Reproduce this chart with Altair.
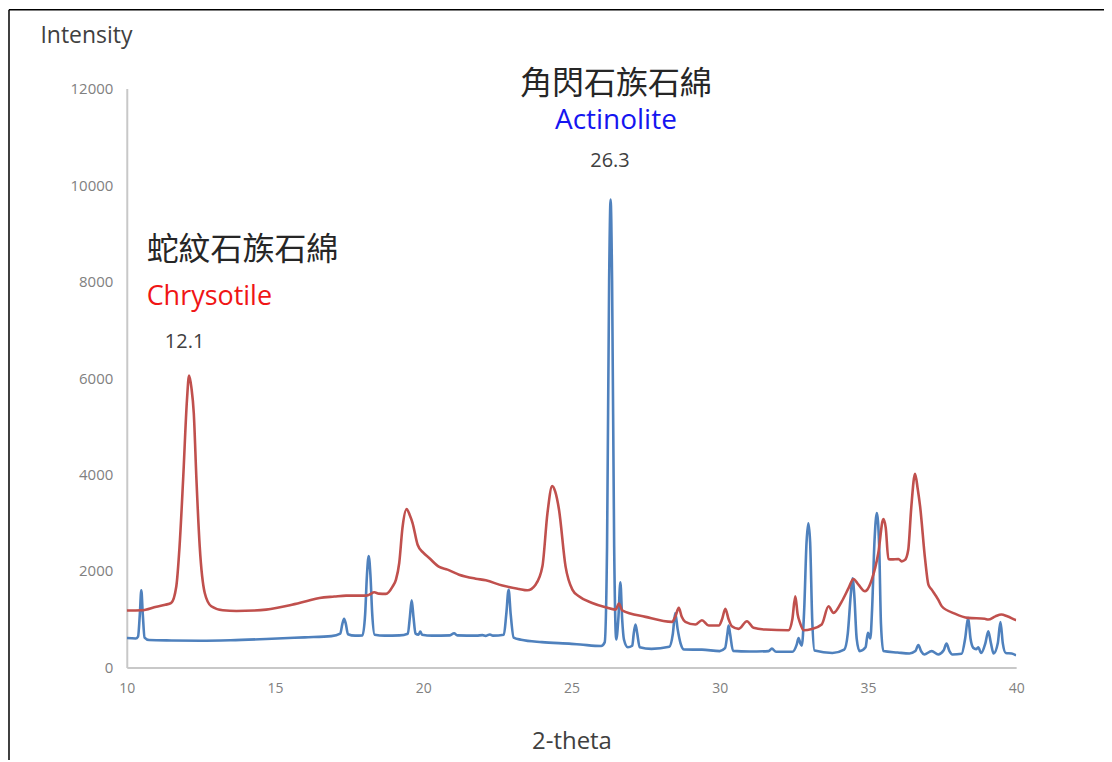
import altair as alt
import pandas as pd

# Actinolite (blue) pattern: 2-theta and intensity
act_x = [10.0, 10.3, 10.38, 10.44, 10.49, 10.54, 10.6, 10.75, 11.5, 12.5, 13.5, 14.7, 16.0, 16.9,
         17.2, 17.27, 17.33, 17.39, 17.46, 17.7, 17.95, 18.04, 18.1, 18.16, 18.22, 18.28, 18.36,
         18.7, 19.2, 19.48, 19.55, 19.61, 19.67, 19.74, 19.84, 19.9, 19.96, 20.3, 20.9, 21.04,
         21.15, 21.8, 22.0, 22.1, 22.25, 22.35, 22.72, 22.8, 22.88, 22.95, 23.05, 23.3, 24.0,
         25.0, 25.3, 26.0, 26.12, 26.2, 26.27, 26.32, 26.37, 26.44, 26.51, 26.58, 26.65, 26.71,
         26.77, 26.9, 27.05, 27.1, 27.16, 27.22, 27.3, 27.7, 28.3, 28.42, 28.5, 28.58, 28.68,
         28.8, 29.4, 30.0, 30.18, 30.26, 30.3, 30.35, 30.45, 31.0, 31.65, 31.76, 31.9, 32.45,
         32.6, 32.66, 32.72, 32.77, 32.85, 32.93, 32.99, 33.05, 33.12, 33.2, 33.8, 34.2, 34.32,
         34.42, 34.48, 34.54, 34.62, 34.72, 34.92, 35.0, 35.08, 35.14, 35.22, 35.3, 35.38, 35.44,
         35.52, 36.0, 36.4, 36.6, 36.7, 36.8, 36.9, 37.15, 37.37, 37.55, 37.65, 37.75, 37.85,
         38.16, 38.28, 38.38, 38.46, 38.55, 38.65, 38.72, 38.82, 38.96, 39.06, 39.15, 39.24,
         39.38, 39.47, 39.55, 39.65, 39.85, 40.0]
act_y = [610, 600, 640, 1100, 1600, 1100, 620, 570, 560, 555, 565, 590, 625, 650,
         700, 900, 1010, 900, 690, 660, 665, 1100, 1900, 2310, 1900, 1100, 680,
         660, 665, 700, 1050, 1390, 1050, 700, 680, 745, 680, 660, 665, 710,
         665, 660, 670, 655, 685, 660, 680, 1100, 1610, 1100, 620, 575, 525,
         490, 476, 445, 520, 2500, 8000, 9700, 8000, 2500, 580, 1000, 1765, 1000,
         580, 420, 450, 700, 890, 700, 420, 386, 430, 700, 1130, 800, 500,
         372, 370, 340, 400, 700, 870, 700, 345, 330, 340, 390, 325, 325,
         480, 610, 500, 450, 1200, 2600, 2990, 2600, 1000, 350, 300, 370, 700,
         1500, 1850, 1500, 600, 340, 420, 720, 600, 1200, 2600, 3200, 2500, 900,
         340, 310, 290, 340, 465, 330, 270, 340, 270, 350, 495, 340, 270,
         285, 600, 1030, 600, 410, 380, 420, 300, 500, 750, 500, 290,
         500, 940, 500, 300, 290, 250]

# Chrysotile (red) pattern
chr_x = [10.0, 10.5, 11.0, 11.3, 11.5, 11.67, 11.78, 11.9, 12.03, 12.1, 12.18, 12.26, 12.35,
         12.46, 12.63, 12.85, 13.24, 13.7, 14.3, 14.7, 15.5, 16.05, 16.5, 17.0, 17.4, 18.07,
         18.18, 18.35, 18.5, 18.74, 18.97, 19.08, 19.19, 19.3, 19.44, 19.55, 19.64, 19.81,
         20.0, 20.2, 20.54, 20.82, 21.21, 21.77, 22.11, 22.67, 23.23, 23.51, 23.79, 24.02,
         24.19, 24.35, 24.45, 24.58, 24.8, 25.03, 25.25, 25.7, 26.15, 26.49, 26.6, 26.71,
         27.5, 28.39, 28.5, 28.62, 28.72, 28.84, 29.18, 29.4, 29.63, 29.97, 30.08, 30.19,
         30.3, 30.41, 30.64, 30.92, 31.14, 31.54, 32.32, 32.45, 32.55, 32.63, 32.71, 32.83,
         33.11, 33.44, 33.67, 33.84, 34.12, 34.35, 34.51, 34.68, 34.9, 34.96, 35.13, 35.35,
         35.52, 35.6, 35.69, 35.8, 36.03, 36.14, 36.25, 36.36, 36.46, 36.59, 36.68, 36.76,
         36.93, 37.04, 37.15, 37.37, 37.49, 37.93, 38.38, 38.94, 39.06, 39.3, 39.5, 39.7,
         39.95, 40.0]
chr_y = [1180, 1185, 1260, 1300, 1340, 1680, 2510, 3890, 5545, 6050, 5800, 5270, 3890,
         2510, 1545, 1270, 1186, 1170, 1180, 1200, 1290, 1372, 1440, 1470, 1490, 1490,
         1510, 1558, 1530, 1525, 1682, 1820, 2166, 2900, 3283, 3150, 2994, 2545,
         2380, 2270, 2083, 2028, 1924, 1841, 1806, 1697, 1628, 1600, 1717, 2096,
         3200, 3760, 3650, 3269, 2096, 1614, 1476, 1338, 1248, 1200, 1324, 1186,
         1049, 945, 1050, 1235, 1050, 945, 890, 979, 869, 870, 1000, 1214,
         1000, 855, 800, 958, 821, 786, 772, 1000, 1476, 1100, 924, 772,
         800, 890, 1269, 1131, 1372, 1650, 1835, 1717, 1579, 1600, 1821, 2373,
         3076, 2900, 2250, 2240, 2249, 2200, 2230, 2441, 3300, 4014, 3700, 3338,
         2235, 1717, 1614, 1407, 1269, 1117, 1028, 1010, 993, 1060, 1097, 1060,
         993, 980]

series_names = ["Actinolite", "Chrysotile"]
series_colors = ["#4F81BD", "#C0504D"]

x_ticks = [10, 15, 20, 25, 30, 35, 40]
y_ticks = [0, 2000, 4000, 6000, 8000, 10000, 12000]

# annotation texts
ann_text = ["角閃石族石綿", "Actinolite", "26.3", "蛇紋石族石綿", "Chrysotile", "12.1"]
ann_x = [26.5, 26.5, 26.3, 10.67, 10.67, 11.95]
ann_y = [12104, 11318, 10490, 8648, 7676, 6745]

df = pd.concat([
    pd.DataFrame({"theta": act_x, "intensity": act_y, "series": series_names[0]}),
    pd.DataFrame({"theta": chr_x, "intensity": chr_y, "series": series_names[1]}),
])

FONT = "Open Sans"
CJK = "Noto Sans CJK TC"

xscale = alt.Scale(domain=[10, 40], nice=False, zero=False)
yscale = alt.Scale(domain=[0, 12000], nice=False)

lines = alt.Chart(df).mark_line(strokeWidth=2.6, interpolate="monotone", clip=True).encode(
    x=alt.X("theta:Q", scale=xscale,
            axis=alt.Axis(values=x_ticks, title="2-theta", grid=False, ticks=False,
                          labelFlush=False, labelOverlap=False,
                          labelPadding=14, labelFontSize=14, labelColor="#808080",
                          labelFont=FONT, domainColor="#C8C8C8", domainWidth=2,
                          titleFont=FONT, titleFontSize=24, titleFontWeight="normal",
                          titleColor="#404040", titleY=74, titleBaseline="middle")),
    y=alt.Y("intensity:Q", scale=yscale,
            axis=alt.Axis(values=y_ticks, title="Intensity", grid=False, ticks=False,
                          format="d", labelFlush=False, labelOverlap=False,
                          labelPadding=14, labelFontSize=15, labelColor="#808080",
                          labelFont=FONT, domainColor="#C8C8C8", domainWidth=2,
                          titleFont=FONT, titleFontSize=23, titleFontWeight="normal",
                          titleColor="#404040", titleAngle=0, titleAlign="left",
                          titleBaseline="middle", titleX=-87, titleY=-53)),
    color=alt.Color("series:N", scale=alt.Scale(domain=series_names, range=series_colors),
                    legend=None),
    order=alt.Order("theta:Q"),
)

ann = pd.DataFrame({"label": ann_text, "x": ann_x, "y": ann_y})

def text_layer(idx, color, size, font, align):
    sub = ann.iloc[[idx]]
    return alt.Chart(sub).mark_text(color=color, fontSize=size, font=font, align=align,
                                    baseline="middle").encode(
        x=alt.X("x:Q", scale=xscale), y=alt.Y("y:Q", scale=yscale), text="label:N")

texts = [
    text_layer(0, "#262626", 32, CJK, "center"),
    text_layer(1, "#1515F0", 28, FONT, "center"),
    text_layer(2, "#404040", 20, FONT, "center"),
    text_layer(3, "#262626", 32, CJK, "left"),
    text_layer(4, "#F01515", 27, FONT, "left"),
    text_layer(5, "#404040", 20, FONT, "center"),
]

border_top = alt.Chart(ann.iloc[[0]]).mark_rule(color="#000000", strokeWidth=1.5).encode(
    x=alt.value(-118), x2=alt.value(1000), y=alt.value(-79))
border_left = alt.Chart(ann.iloc[[0]]).mark_rule(color="#000000", strokeWidth=1.5).encode(
    x=alt.value(-118), y=alt.value(-79), y2=alt.value(700))

chart = alt.layer(lines, *texts, border_top, border_left).properties(
    width=891, height=580,
    autosize=alt.AutoSizeParams(type="none"),
    padding={"left": 119, "top": 80, "right": 88, "bottom": 92},
).configure(background="white", view=alt.ViewConfig(stroke=None))

chart.save("out.html", embed_options={"renderer": "svg", "actions": False})
